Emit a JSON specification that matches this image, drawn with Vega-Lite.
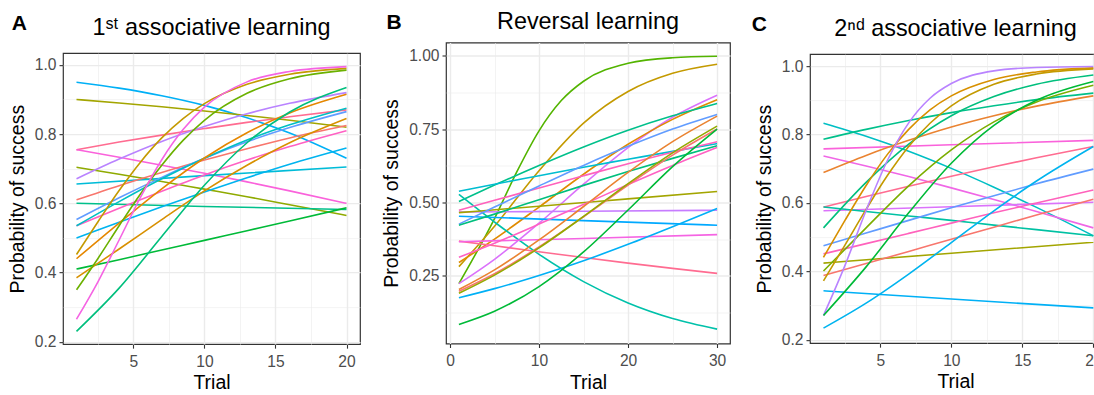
{
"$schema": "https://vega.github.io/schema/vega-lite/v6.json",
"padding": {"left": 6, "right": 0, "top": 8.5, "bottom": 1},
"background": "white",
"center": true,
"config": {
"font": "Liberation Sans",
"view": {"stroke": "#333333", "strokeWidth": 1.2},
"axis": {"domain": false, "tickColor": "#333333", "tickSize": 4, "tickWidth": 1.1, "labelColor": "#4D4D4D", "labelFontSize": 15.6, "labelFont": "Liberation Sans", "titleFont": "Liberation Sans", "titleFontSize": 19.5, "titleFontWeight": "normal", "titleColor": "#000000", "gridColor": "#EBEBEB", "labelPadding": 3},
"axisX": {"titlePadding": 4, "labelPadding": 6},
"axisY": {"titlePadding": 7},
"title": {"font": "Liberation Sans", "fontWeight": "normal", "fontSize": 23.4, "color": "#000000"},
"concat": {"spacing": 20}
},
"datasets": {"curves": [
{"panel":"A","id":"A01","trial":1,"p":0.95},{"panel":"A","id":"A01","trial":4,"p":0.933},{"panel":"A","id":"A01","trial":7,"p":0.911},{"panel":"A","id":"A01","trial":10,"p":0.883},{"panel":"A","id":"A01","trial":13,"p":0.847},{"panel":"A","id":"A01","trial":16,"p":0.803},{"panel":"A","id":"A01","trial":20,"p":0.73},
{"panel":"A","id":"A02","trial":1,"p":0.9},{"panel":"A","id":"A02","trial":4,"p":0.89},{"panel":"A","id":"A02","trial":7,"p":0.879},{"panel":"A","id":"A02","trial":10,"p":0.867},{"panel":"A","id":"A02","trial":13,"p":0.854},{"panel":"A","id":"A02","trial":16,"p":0.84},{"panel":"A","id":"A02","trial":20,"p":0.82},
{"panel":"A","id":"A03","trial":1,"p":0.755},{"panel":"A","id":"A03","trial":4,"p":0.777},{"panel":"A","id":"A03","trial":7,"p":0.797},{"panel":"A","id":"A03","trial":10,"p":0.816},{"panel":"A","id":"A03","trial":13,"p":0.834},{"panel":"A","id":"A03","trial":16,"p":0.85},{"panel":"A","id":"A03","trial":20,"p":0.87},
{"panel":"A","id":"A04","trial":1,"p":0.755},{"panel":"A","id":"A04","trial":4,"p":0.733},{"panel":"A","id":"A04","trial":7,"p":0.71},{"panel":"A","id":"A04","trial":10,"p":0.687},{"panel":"A","id":"A04","trial":13,"p":0.662},{"panel":"A","id":"A04","trial":16,"p":0.636},{"panel":"A","id":"A04","trial":20,"p":0.6},
{"panel":"A","id":"A05","trial":1,"p":0.704},{"panel":"A","id":"A05","trial":4,"p":0.684},{"panel":"A","id":"A05","trial":7,"p":0.663},{"panel":"A","id":"A05","trial":10,"p":0.641},{"panel":"A","id":"A05","trial":13,"p":0.619},{"panel":"A","id":"A05","trial":16,"p":0.596},{"panel":"A","id":"A05","trial":20,"p":0.565},
{"panel":"A","id":"A06","trial":1,"p":0.671},{"panel":"A","id":"A06","trial":4,"p":0.728},{"panel":"A","id":"A06","trial":7,"p":0.779},{"panel":"A","id":"A06","trial":10,"p":0.822},{"panel":"A","id":"A06","trial":13,"p":0.859},{"panel":"A","id":"A06","trial":16,"p":0.889},{"panel":"A","id":"A06","trial":20,"p":0.92},
{"panel":"A","id":"A07","trial":1,"p":0.656},{"panel":"A","id":"A07","trial":10,"p":0.68},{"panel":"A","id":"A07","trial":20,"p":0.705},
{"panel":"A","id":"A08","trial":1,"p":0.61},{"panel":"A","id":"A08","trial":4,"p":0.651},{"panel":"A","id":"A08","trial":7,"p":0.689},{"panel":"A","id":"A08","trial":10,"p":0.725},{"panel":"A","id":"A08","trial":13,"p":0.758},{"panel":"A","id":"A08","trial":16,"p":0.789},{"panel":"A","id":"A08","trial":20,"p":0.825},
{"panel":"A","id":"A09","trial":1,"p":0.6},{"panel":"A","id":"A09","trial":10,"p":0.591},{"panel":"A","id":"A09","trial":20,"p":0.582},
{"panel":"A","id":"A10","trial":1,"p":0.553},{"panel":"A","id":"A10","trial":4,"p":0.616},{"panel":"A","id":"A10","trial":7,"p":0.675},{"panel":"A","id":"A10","trial":10,"p":0.73},{"panel":"A","id":"A10","trial":13,"p":0.778},{"panel":"A","id":"A10","trial":16,"p":0.819},{"panel":"A","id":"A10","trial":20,"p":0.865},
{"panel":"A","id":"A11","trial":1,"p":0.535},{"panel":"A","id":"A11","trial":4,"p":0.586},{"panel":"A","id":"A11","trial":7,"p":0.635},{"panel":"A","id":"A11","trial":10,"p":0.682},{"panel":"A","id":"A11","trial":13,"p":0.725},{"panel":"A","id":"A11","trial":16,"p":0.764},{"panel":"A","id":"A11","trial":20,"p":0.81},
{"panel":"A","id":"A12","trial":1,"p":0.535},{"panel":"A","id":"A12","trial":4,"p":0.605},{"panel":"A","id":"A12","trial":7,"p":0.671},{"panel":"A","id":"A12","trial":10,"p":0.73},{"panel":"A","id":"A12","trial":13,"p":0.783},{"panel":"A","id":"A12","trial":16,"p":0.827},{"panel":"A","id":"A12","trial":20,"p":0.875},
{"panel":"A","id":"A13","trial":1,"p":0.5},{"panel":"A","id":"A13","trial":4,"p":0.545},{"panel":"A","id":"A13","trial":7,"p":0.59},{"panel":"A","id":"A13","trial":10,"p":0.633},{"panel":"A","id":"A13","trial":13,"p":0.674},{"panel":"A","id":"A13","trial":16,"p":0.713},{"panel":"A","id":"A13","trial":20,"p":0.76},
{"panel":"A","id":"A14","trial":1,"p":0.452},{"panel":"A","id":"A14","trial":2.5,"p":0.546},{"panel":"A","id":"A14","trial":4,"p":0.637},{"panel":"A","id":"A14","trial":5.5,"p":0.719},{"panel":"A","id":"A14","trial":7,"p":0.789},{"panel":"A","id":"A14","trial":8.5,"p":0.845},{"panel":"A","id":"A14","trial":10,"p":0.888},{"panel":"A","id":"A14","trial":13,"p":0.944},{"panel":"A","id":"A14","trial":16,"p":0.973},{"panel":"A","id":"A14","trial":20,"p":0.99},
{"panel":"A","id":"A15","trial":1,"p":0.44},{"panel":"A","id":"A15","trial":4,"p":0.543},{"panel":"A","id":"A15","trial":7,"p":0.642},{"panel":"A","id":"A15","trial":10,"p":0.731},{"panel":"A","id":"A15","trial":13,"p":0.804},{"panel":"A","id":"A15","trial":16,"p":0.861},{"panel":"A","id":"A15","trial":20,"p":0.915},
{"panel":"A","id":"A16","trial":1,"p":0.41},{"panel":"A","id":"A16","trial":4,"p":0.437},{"panel":"A","id":"A16","trial":7,"p":0.465},{"panel":"A","id":"A16","trial":10,"p":0.493},{"panel":"A","id":"A16","trial":13,"p":0.521},{"panel":"A","id":"A16","trial":16,"p":0.549},{"panel":"A","id":"A16","trial":20,"p":0.587},
{"panel":"A","id":"A17","trial":1,"p":0.385},{"panel":"A","id":"A17","trial":4,"p":0.468},{"panel":"A","id":"A17","trial":7,"p":0.553},{"panel":"A","id":"A17","trial":10,"p":0.636},{"panel":"A","id":"A17","trial":13,"p":0.71},{"panel":"A","id":"A17","trial":16,"p":0.775},{"panel":"A","id":"A17","trial":20,"p":0.845},
{"panel":"A","id":"A18","trial":1,"p":0.35},{"panel":"A","id":"A18","trial":2.5,"p":0.44},{"panel":"A","id":"A18","trial":4,"p":0.535},{"panel":"A","id":"A18","trial":5.5,"p":0.627},{"panel":"A","id":"A18","trial":7,"p":0.71},{"panel":"A","id":"A18","trial":8.5,"p":0.782},{"panel":"A","id":"A18","trial":10,"p":0.84},{"panel":"A","id":"A18","trial":13,"p":0.918},{"panel":"A","id":"A18","trial":16,"p":0.96},{"panel":"A","id":"A18","trial":20,"p":0.985},
{"panel":"A","id":"A19","trial":1,"p":0.265},{"panel":"A","id":"A19","trial":2.5,"p":0.3725},{"panel":"A","id":"A19","trial":4,"p":0.494},{"panel":"A","id":"A19","trial":5.5,"p":0.617},{"panel":"A","id":"A19","trial":7,"p":0.726},{"panel":"A","id":"A19","trial":8.5,"p":0.813},{"panel":"A","id":"A19","trial":10,"p":0.878},{"panel":"A","id":"A19","trial":13,"p":0.951},{"panel":"A","id":"A19","trial":16,"p":0.981},{"panel":"A","id":"A19","trial":20,"p":0.995},
{"panel":"A","id":"A20","trial":1,"p":0.23},{"panel":"A","id":"A20","trial":4,"p":0.355},{"panel":"A","id":"A20","trial":7,"p":0.504},{"panel":"A","id":"A20","trial":10,"p":0.652},{"panel":"A","id":"A20","trial":13,"p":0.775},{"panel":"A","id":"A20","trial":16,"p":0.864},{"panel":"A","id":"A20","trial":20,"p":0.935},
{"panel":"B","id":"B01","trial":1,"p":0.223},{"panel":"B","id":"B01","trial":5,"p":0.445},{"panel":"B","id":"B01","trial":7.5,"p":0.604},{"panel":"B","id":"B01","trial":10,"p":0.744},{"panel":"B","id":"B01","trial":12.5,"p":0.847},{"panel":"B","id":"B01","trial":15,"p":0.913},{"panel":"B","id":"B01","trial":20,"p":0.974},{"panel":"B","id":"B01","trial":25,"p":0.993},{"panel":"B","id":"B01","trial":30,"p":0.998},
{"panel":"B","id":"B02","trial":1,"p":0.281},{"panel":"B","id":"B02","trial":5,"p":0.419},{"panel":"B","id":"B02","trial":10,"p":0.608},{"panel":"B","id":"B02","trial":15,"p":0.77},{"panel":"B","id":"B02","trial":20,"p":0.878},{"panel":"B","id":"B02","trial":25,"p":0.94},{"panel":"B","id":"B02","trial":30,"p":0.971},
{"panel":"B","id":"B03","trial":1,"p":0.223},{"panel":"B","id":"B03","trial":5,"p":0.306},{"panel":"B","id":"B03","trial":10,"p":0.429},{"panel":"B","id":"B03","trial":15,"p":0.562},{"panel":"B","id":"B03","trial":20,"p":0.687},{"panel":"B","id":"B03","trial":25,"p":0.79},{"panel":"B","id":"B03","trial":30,"p":0.865},
{"panel":"B","id":"B04","trial":1,"p":0.295},{"panel":"B","id":"B04","trial":5,"p":0.375},{"panel":"B","id":"B04","trial":10,"p":0.484},{"panel":"B","id":"B04","trial":15,"p":0.596},{"panel":"B","id":"B04","trial":20,"p":0.698},{"panel":"B","id":"B04","trial":25,"p":0.783},{"panel":"B","id":"B04","trial":30,"p":0.85},
{"panel":"B","id":"B05","trial":1,"p":0.503},{"panel":"B","id":"B05","trial":5,"p":0.559},{"panel":"B","id":"B05","trial":10,"p":0.626},{"panel":"B","id":"B05","trial":15,"p":0.689},{"panel":"B","id":"B05","trial":20,"p":0.746},{"panel":"B","id":"B05","trial":25,"p":0.795},{"panel":"B","id":"B05","trial":30,"p":0.837},
{"panel":"B","id":"B06","trial":1,"p":0.538},{"panel":"B","id":"B06","trial":5,"p":0.562},{"panel":"B","id":"B06","trial":10,"p":0.591},{"panel":"B","id":"B06","trial":15,"p":0.62},{"panel":"B","id":"B06","trial":20,"p":0.647},{"panel":"B","id":"B06","trial":25,"p":0.674},{"panel":"B","id":"B06","trial":30,"p":0.7},
{"panel":"B","id":"B07","trial":1,"p":0.527},{"panel":"B","id":"B07","trial":5,"p":0.433},{"panel":"B","id":"B07","trial":10,"p":0.323},{"panel":"B","id":"B07","trial":15,"p":0.23},{"panel":"B","id":"B07","trial":20,"p":0.157},{"panel":"B","id":"B07","trial":25,"p":0.104},{"panel":"B","id":"B07","trial":30,"p":0.068},
{"panel":"B","id":"B08","trial":1,"p":0.473},{"panel":"B","id":"B08","trial":5,"p":0.507},{"panel":"B","id":"B08","trial":10,"p":0.549},{"panel":"B","id":"B08","trial":15,"p":0.591},{"panel":"B","id":"B08","trial":20,"p":0.632},{"panel":"B","id":"B08","trial":25,"p":0.671},{"panel":"B","id":"B08","trial":30,"p":0.707},
{"panel":"B","id":"B09","trial":1,"p":0.467},{"panel":"B","id":"B09","trial":15,"p":0.47},{"panel":"B","id":"B09","trial":30,"p":0.473},
{"panel":"B","id":"B10","trial":1,"p":0.465},{"panel":"B","id":"B10","trial":10,"p":0.487},{"panel":"B","id":"B10","trial":20,"p":0.512},{"panel":"B","id":"B10","trial":30,"p":0.537},
{"panel":"B","id":"B11","trial":1,"p":0.453},{"panel":"B","id":"B11","trial":15,"p":0.438},{"panel":"B","id":"B11","trial":30,"p":0.422},
{"panel":"B","id":"B12","trial":1,"p":0.426},{"panel":"B","id":"B12","trial":5,"p":0.484},{"panel":"B","id":"B12","trial":10,"p":0.556},{"panel":"B","id":"B12","trial":15,"p":0.626},{"panel":"B","id":"B12","trial":20,"p":0.691},{"panel":"B","id":"B12","trial":25,"p":0.75},{"panel":"B","id":"B12","trial":30,"p":0.8},
{"panel":"B","id":"B13","trial":1,"p":0.422},{"panel":"B","id":"B13","trial":5,"p":0.46},{"panel":"B","id":"B13","trial":10,"p":0.509},{"panel":"B","id":"B13","trial":15,"p":0.558},{"panel":"B","id":"B13","trial":20,"p":0.605},{"panel":"B","id":"B13","trial":25,"p":0.65},{"panel":"B","id":"B13","trial":30,"p":0.693},
{"panel":"B","id":"B14","trial":1,"p":0.368},{"panel":"B","id":"B14","trial":5,"p":0.352},{"panel":"B","id":"B14","trial":10,"p":0.332},{"panel":"B","id":"B14","trial":15,"p":0.312},{"panel":"B","id":"B14","trial":20,"p":0.293},{"panel":"B","id":"B14","trial":25,"p":0.275},{"panel":"B","id":"B14","trial":30,"p":0.258},
{"panel":"B","id":"B15","trial":1,"p":0.366},{"panel":"B","id":"B15","trial":15,"p":0.377},{"panel":"B","id":"B15","trial":30,"p":0.39},
{"panel":"B","id":"B16","trial":1,"p":0.313},{"panel":"B","id":"B16","trial":5,"p":0.361},{"panel":"B","id":"B16","trial":10,"p":0.426},{"panel":"B","id":"B16","trial":15,"p":0.493},{"panel":"B","id":"B16","trial":20,"p":0.561},{"panel":"B","id":"B16","trial":25,"p":0.626},{"panel":"B","id":"B16","trial":30,"p":0.687},
{"panel":"B","id":"B17","trial":1,"p":0.203},{"panel":"B","id":"B17","trial":5,"p":0.27},{"panel":"B","id":"B17","trial":10,"p":0.372},{"panel":"B","id":"B17","trial":15,"p":0.486},{"panel":"B","id":"B17","trial":20,"p":0.602},{"panel":"B","id":"B17","trial":25,"p":0.707},{"panel":"B","id":"B17","trial":30,"p":0.794},
{"panel":"B","id":"B18","trial":1,"p":0.197},{"panel":"B","id":"B18","trial":5,"p":0.257},{"panel":"B","id":"B18","trial":10,"p":0.348},{"panel":"B","id":"B18","trial":15,"p":0.451},{"panel":"B","id":"B18","trial":20,"p":0.559},{"panel":"B","id":"B18","trial":25,"p":0.661},{"panel":"B","id":"B18","trial":30,"p":0.75},
{"panel":"B","id":"B19","trial":1,"p":0.19},{"panel":"B","id":"B19","trial":5,"p":0.252},{"panel":"B","id":"B19","trial":10,"p":0.345},{"panel":"B","id":"B19","trial":15,"p":0.452},{"panel":"B","id":"B19","trial":20,"p":0.564},{"panel":"B","id":"B19","trial":25,"p":0.669},{"panel":"B","id":"B19","trial":30,"p":0.76},
{"panel":"B","id":"B20","trial":1,"p":0.175},{"panel":"B","id":"B20","trial":5,"p":0.206},{"panel":"B","id":"B20","trial":10,"p":0.251},{"panel":"B","id":"B20","trial":15,"p":0.301},{"panel":"B","id":"B20","trial":20,"p":0.357},{"panel":"B","id":"B20","trial":25,"p":0.417},{"panel":"B","id":"B20","trial":30,"p":0.479},
{"panel":"B","id":"B21","trial":1,"p":0.084},{"panel":"B","id":"B21","trial":5,"p":0.129},{"panel":"B","id":"B21","trial":10,"p":0.213},{"panel":"B","id":"B21","trial":15,"p":0.331},{"panel":"B","id":"B21","trial":20,"p":0.474},{"panel":"B","id":"B21","trial":25,"p":0.622},{"panel":"B","id":"B21","trial":30,"p":0.75},
{"panel":"C","id":"C01","trial":1,"p":0.833},{"panel":"C","id":"C01","trial":4,"p":0.795},{"panel":"C","id":"C01","trial":7,"p":0.751},{"panel":"C","id":"C01","trial":10,"p":0.701},{"panel":"C","id":"C01","trial":13,"p":0.646},{"panel":"C","id":"C01","trial":16,"p":0.587},{"panel":"C","id":"C01","trial":20,"p":0.504},
{"panel":"C","id":"C02","trial":1,"p":0.786},{"panel":"C","id":"C02","trial":4,"p":0.815},{"panel":"C","id":"C02","trial":7,"p":0.841},{"panel":"C","id":"C02","trial":10,"p":0.864},{"panel":"C","id":"C02","trial":13,"p":0.884},{"panel":"C","id":"C02","trial":16,"p":0.902},{"panel":"C","id":"C02","trial":20,"p":0.921},
{"panel":"C","id":"C03","trial":1,"p":0.758},{"panel":"C","id":"C03","trial":10,"p":0.77},{"panel":"C","id":"C03","trial":20,"p":0.783},
{"panel":"C","id":"C04","trial":1,"p":0.737},{"panel":"C","id":"C04","trial":4,"p":0.708},{"panel":"C","id":"C04","trial":7,"p":0.677},{"panel":"C","id":"C04","trial":10,"p":0.644},{"panel":"C","id":"C04","trial":13,"p":0.61},{"panel":"C","id":"C04","trial":16,"p":0.575},{"panel":"C","id":"C04","trial":20,"p":0.527},
{"panel":"C","id":"C05","trial":1,"p":0.689},{"panel":"C","id":"C05","trial":4,"p":0.739},{"panel":"C","id":"C05","trial":7,"p":0.783},{"panel":"C","id":"C05","trial":10,"p":0.822},{"panel":"C","id":"C05","trial":13,"p":0.855},{"panel":"C","id":"C05","trial":16,"p":0.883},{"panel":"C","id":"C05","trial":20,"p":0.913},
{"panel":"C","id":"C06","trial":1,"p":0.588},{"panel":"C","id":"C06","trial":4,"p":0.619},{"panel":"C","id":"C06","trial":7,"p":0.649},{"panel":"C","id":"C06","trial":10,"p":0.678},{"panel":"C","id":"C06","trial":13,"p":0.706},{"panel":"C","id":"C06","trial":16,"p":0.732},{"panel":"C","id":"C06","trial":20,"p":0.765},
{"panel":"C","id":"C07","trial":1,"p":0.577},{"panel":"C","id":"C07","trial":10,"p":0.589},{"panel":"C","id":"C07","trial":20,"p":0.602},
{"panel":"C","id":"C08","trial":1,"p":0.588},{"panel":"C","id":"C08","trial":4,"p":0.575},{"panel":"C","id":"C08","trial":7,"p":0.562},{"panel":"C","id":"C08","trial":10,"p":0.549},{"panel":"C","id":"C08","trial":13,"p":0.535},{"panel":"C","id":"C08","trial":16,"p":0.522},{"panel":"C","id":"C08","trial":20,"p":0.504},
{"panel":"C","id":"C09","trial":1,"p":0.527},{"panel":"C","id":"C09","trial":4,"p":0.66},{"panel":"C","id":"C09","trial":7,"p":0.772},{"panel":"C","id":"C09","trial":10,"p":0.855},{"panel":"C","id":"C09","trial":13,"p":0.911},{"panel":"C","id":"C09","trial":16,"p":0.947},{"panel":"C","id":"C09","trial":20,"p":0.974},
{"panel":"C","id":"C10","trial":1,"p":0.475},{"panel":"C","id":"C10","trial":4,"p":0.512},{"panel":"C","id":"C10","trial":7,"p":0.549},{"panel":"C","id":"C10","trial":10,"p":0.586},{"panel":"C","id":"C10","trial":13,"p":0.621},{"panel":"C","id":"C10","trial":16,"p":0.656},{"panel":"C","id":"C10","trial":20,"p":0.699},
{"panel":"C","id":"C11","trial":1,"p":0.451},{"panel":"C","id":"C11","trial":4,"p":0.481},{"panel":"C","id":"C11","trial":7,"p":0.511},{"panel":"C","id":"C11","trial":10,"p":0.541},{"panel":"C","id":"C11","trial":13,"p":0.571},{"panel":"C","id":"C11","trial":16,"p":0.6},{"panel":"C","id":"C11","trial":20,"p":0.638},
{"panel":"C","id":"C12","trial":1,"p":0.441},{"panel":"C","id":"C12","trial":2.5,"p":0.548},{"panel":"C","id":"C12","trial":4,"p":0.651},{"panel":"C","id":"C12","trial":5.5,"p":0.742},{"panel":"C","id":"C12","trial":7,"p":0.815},{"panel":"C","id":"C12","trial":8.5,"p":0.872},{"panel":"C","id":"C12","trial":10,"p":0.913},{"panel":"C","id":"C12","trial":13,"p":0.961},{"panel":"C","id":"C12","trial":16,"p":0.983},{"panel":"C","id":"C12","trial":20,"p":0.995},
{"panel":"C","id":"C13","trial":1,"p":0.424},{"panel":"C","id":"C13","trial":10,"p":0.453},{"panel":"C","id":"C13","trial":20,"p":0.485},
{"panel":"C","id":"C14","trial":1,"p":0.401},{"panel":"C","id":"C14","trial":4,"p":0.527},{"panel":"C","id":"C14","trial":7,"p":0.65},{"panel":"C","id":"C14","trial":10,"p":0.755},{"panel":"C","id":"C14","trial":13,"p":0.837},{"panel":"C","id":"C14","trial":16,"p":0.895},{"panel":"C","id":"C14","trial":20,"p":0.944},
{"panel":"C","id":"C15","trial":1,"p":0.388},{"panel":"C","id":"C15","trial":4,"p":0.423},{"panel":"C","id":"C15","trial":7,"p":0.458},{"panel":"C","id":"C15","trial":10,"p":0.494},{"panel":"C","id":"C15","trial":13,"p":0.529},{"panel":"C","id":"C15","trial":16,"p":0.565},{"panel":"C","id":"C15","trial":20,"p":0.611},
{"panel":"C","id":"C16","trial":1,"p":0.372},{"panel":"C","id":"C16","trial":2.5,"p":0.476},{"panel":"C","id":"C16","trial":4,"p":0.581},{"panel":"C","id":"C16","trial":5.5,"p":0.68},{"panel":"C","id":"C16","trial":7,"p":0.765},{"panel":"C","id":"C16","trial":8.5,"p":0.833},{"panel":"C","id":"C16","trial":10,"p":0.884},{"panel":"C","id":"C16","trial":13,"p":0.947},{"panel":"C","id":"C16","trial":16,"p":0.977},{"panel":"C","id":"C16","trial":20,"p":0.992},
{"panel":"C","id":"C17","trial":1,"p":0.343},{"panel":"C","id":"C17","trial":10,"p":0.319},{"panel":"C","id":"C17","trial":20,"p":0.293},
{"panel":"C","id":"C18","trial":1,"p":0.271},{"panel":"C","id":"C18","trial":2.5,"p":0.416},{"panel":"C","id":"C18","trial":4,"p":0.578},{"panel":"C","id":"C18","trial":5.5,"p":0.724},{"panel":"C","id":"C18","trial":7,"p":0.834},{"panel":"C","id":"C18","trial":8.5,"p":0.906},{"panel":"C","id":"C18","trial":10,"p":0.949},{"panel":"C","id":"C18","trial":13,"p":0.986},{"panel":"C","id":"C18","trial":16,"p":0.996},{"panel":"C","id":"C18","trial":20,"p":0.999},
{"panel":"C","id":"C19","trial":1,"p":0.271},{"panel":"C","id":"C19","trial":4,"p":0.413},{"panel":"C","id":"C19","trial":7,"p":0.571},{"panel":"C","id":"C19","trial":10,"p":0.716},{"panel":"C","id":"C19","trial":13,"p":0.827},{"panel":"C","id":"C19","trial":16,"p":0.9},{"panel":"C","id":"C19","trial":20,"p":0.955},
{"panel":"C","id":"C20","trial":1,"p":0.234},{"panel":"C","id":"C20","trial":4,"p":0.307},{"panel":"C","id":"C20","trial":7,"p":0.392},{"panel":"C","id":"C20","trial":10,"p":0.484},{"panel":"C","id":"C20","trial":13,"p":0.577},{"panel":"C","id":"C20","trial":16,"p":0.664},{"panel":"C","id":"C20","trial":20,"p":0.765}
]},
"hconcat": [
{"title": {"text": "A", "fontSize": 21, "fontWeight": "bold", "anchor": "start", "frame": "bounds", "dy": 22.7, "dx": 5},
 "hconcat": [{
 "width": 297, "height": 291,
 "title": {"text": "1ˢᵗ associative learning", "anchor": "middle", "offset": 12.8},
 "data": {"name": "curves"},
 "transform": [{"filter": "datum.panel === 'A'"}],
 "mark": {"type": "line", "interpolate": "monotone", "strokeWidth": 1.6, "clip": true},
 "encoding": {
  "x": {"field": "trial", "type": "quantitative", "scale": {"domain": [0.05, 20.95], "nice": false, "zero": false},
   "axis": {"title": "Trial", "values": [2.5, 5, 7.5, 10, 12.5, 15, 17.5, 20], "labelExpr": "datum.value % 5 === 0 ? format(datum.value, 'd') : ''",
    "tickColor": {"condition": {"test": "datum.value % 5 !== 0", "value": "transparent"}, "value": "#333333"},
    "gridWidth": {"condition": {"test": "datum.value % 5 !== 0", "value": 0.6}, "value": 1.4}}},
  "y": {"field": "p", "type": "quantitative", "scale": {"domain": [0.193, 1.034], "nice": false, "zero": false},
   "axis": {"title": "Probability of success", "values": [0.2, 0.3, 0.4, 0.5, 0.6, 0.7, 0.8, 0.9, 1.0], "labelExpr": "round(datum.value * 10) % 2 === 0 ? format(datum.value, '.1f') : ''",
    "tickColor": {"condition": {"test": "round(datum.value * 10) % 2 === 1", "value": "transparent"}, "value": "#333333"},
    "gridWidth": {"condition": {"test": "round(datum.value * 10) % 2 === 1", "value": 0.6}, "value": 1.4}}},
  "color": {"field": "id", "type": "nominal", "legend": null, "scale": {"domain": ["A01","A02","A03","A04","A05","A06","A07","A08","A09","A10","A11","A12","A13","A14","A15","A16","A17","A18","A19","A20","B01","B02","B03","B04","B05","B06","B07","B08","B09","B10","B11","B12","B13","B14","B15","B16","B17","B18","B19","B20","B21","C01","C02","C03","C04","C05","C06","C07","C08","C09","C10","C11","C12","C13","C14","C15","C16","C17","C18","C19","C20"],
   "range": ["#00B0F6","#A3A500","#FF6C91","#FA62DB","#8FAA00","#B983FF","#00BCD8","#F8766D","#00C08B","#619CFF","#FF61C3","#00BFC4","#00B4EF","#C49A00","#E58700","#00BA38","#D89000","#6BB100","#F564E3","#00BF7D","#53B400","#C49A00","#DB72FB","#E08B00","#00C08B","#00BDD0","#00C1AA","#FF62BC","#C77CFF","#A3A500","#00A9FF","#619CFF","#00BF7D","#FF6C91","#F564E3","#FF61C3","#EA8331","#F8766D","#93AA00","#00B0F6","#00BA38","#00BFC4","#00C08B","#FA62DB","#F067E6","#EA8331","#FF6C91","#DB72FB","#00C1A3","#00BF7D","#619CFF","#FF62BC","#D89000","#A3A500","#7CAE00","#F8766D","#C49A00","#00B0F6","#B983FF","#00BA38","#00B4EF"]}}
 }
 }]},
{"title": {"text": "B", "fontSize": 21, "fontWeight": "bold", "anchor": "start", "frame": "bounds", "dy": 27.9, "dx": 5.5},
 "hconcat": [{
 "width": 284, "height": 301,
 "title": {"text": "Reversal learning", "anchor": "middle", "offset": 8.5},
 "data": {"name": "curves"},
 "transform": [{"filter": "datum.panel === 'B'"}],
 "mark": {"type": "line", "interpolate": "monotone", "strokeWidth": 1.6, "clip": true},
 "encoding": {
  "x": {"field": "trial", "type": "quantitative", "scale": {"domain": [-0.45, 31.45], "nice": false, "zero": false},
   "axis": {"title": ["Trial", " "], "titleLineHeight": 11.3, "values": [0, 5, 10, 15, 20, 25, 30], "labelExpr": "datum.value % 10 === 0 ? format(datum.value, 'd') : ''",
    "tickColor": {"condition": {"test": "datum.value % 10 !== 0", "value": "transparent"}, "value": "#333333"},
    "gridWidth": {"condition": {"test": "datum.value % 10 !== 0", "value": 0.6}, "value": 1.4}}},
  "y": {"field": "p", "type": "quantitative", "scale": {"domain": [0.019, 1.045], "nice": false, "zero": false},
   "axis": {"title": "Probability of success", "values": [0.125, 0.25, 0.375, 0.5, 0.625, 0.75, 0.875, 1.0], "labelExpr": "round(datum.value * 8) % 2 === 0 ? format(datum.value, '.2f') : ''",
    "tickColor": {"condition": {"test": "round(datum.value * 8) % 2 === 1", "value": "transparent"}, "value": "#333333"},
    "gridWidth": {"condition": {"test": "round(datum.value * 8) % 2 === 1", "value": 0.6}, "value": 1.4}}},
  "color": {"field": "id", "type": "nominal", "legend": null}
 }
 }]},
{"title": {"text": "C", "fontSize": 21, "fontWeight": "bold", "anchor": "start", "frame": "bounds", "dy": 22.7, "dx": -2},
 "hconcat": [{
 "width": 291, "height": 289,
 "title": {"text": "2ⁿᵈ associative learning", "anchor": "middle", "offset": 12.8},
 "data": {"name": "curves"},
 "transform": [{"filter": "datum.panel === 'C'"}],
 "mark": {"type": "line", "interpolate": "monotone", "strokeWidth": 1.6, "clip": true},
 "encoding": {
  "x": {"field": "trial", "type": "quantitative", "scale": {"domain": [0.05, 20.54], "nice": false, "zero": false},
   "axis": {"title": "Trial", "values": [2.5, 5, 7.5, 10, 12.5, 15, 17.5, 20], "labelExpr": "datum.value % 5 === 0 ? format(datum.value, 'd') : ''",
    "tickColor": {"condition": {"test": "datum.value % 5 !== 0", "value": "transparent"}, "value": "#333333"},
    "gridWidth": {"condition": {"test": "datum.value % 5 !== 0", "value": 0.6}, "value": 1.4}}},
  "y": {"field": "p", "type": "quantitative", "scale": {"domain": [0.19, 1.035], "nice": false, "zero": false},
   "axis": {"title": "Probability of success", "values": [0.2, 0.3, 0.4, 0.5, 0.6, 0.7, 0.8, 0.9, 1.0], "labelExpr": "round(datum.value * 10) % 2 === 0 ? format(datum.value, '.1f') : ''",
    "tickColor": {"condition": {"test": "round(datum.value * 10) % 2 === 1", "value": "transparent"}, "value": "#333333"},
    "gridWidth": {"condition": {"test": "round(datum.value * 10) % 2 === 1", "value": 0.6}, "value": 1.4}}},
  "color": {"field": "id", "type": "nominal", "legend": null}
 }
 }]}
]
}
